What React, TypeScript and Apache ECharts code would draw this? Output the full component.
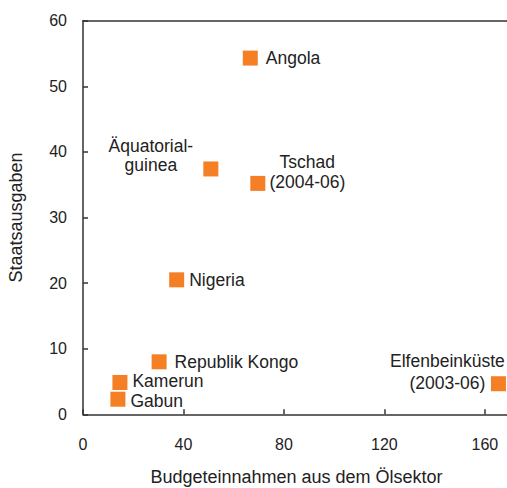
import React, { useEffect, useRef } from "react";
import * as echarts from "echarts";

const countries = [
  "Angola",
  "Äquatorial-\nguinea",
  "Tschad\n(2004-06)",
  "Nigeria",
  "Republik Kongo",
  "Kamerun",
  "Gabun",
  "Elfenbeinküste\n(2003-06)",
];
const oilRevenue = [66.6, 50.9, 69.6, 37.3, 30.3, 14.7, 13.9, 165.4];
const spending = [54.3, 37.4, 35.2, 20.5, 8.0, 4.85, 2.3, 4.66];

const xTicks = [0, 40, 80, 120, 160];
const yTicks = [0, 10, 20, 30, 40, 50, 60];

const FONT = "Liberation Sans";
const TEXT = "#222222";
const ORANGE = "#F47F24";

// label placement per point (style only)
const labelStyles: any[] = [
  { position: "right", distance: 8, lineHeight: 15 },
  { position: [-52.5, -6], align: "center", verticalAlign: "middle", lineHeight: 19.5 },
  { position: [57, -4], align: "center", verticalAlign: "middle", lineHeight: 20.5 },
  { position: "right", distance: 5, lineHeight: 15 },
  { position: "right", distance: 8, lineHeight: 15 },
  { position: "right", distance: 5, lineHeight: 15, offset: [0, -1.5] },
  { position: "right", distance: 5, lineHeight: 15, offset: [0, 1.5] },
  { position: [-43.5, -4], align: "center", verticalAlign: "middle", lineHeight: 22 },
];

export default function App() {
  const ref = useRef<HTMLDivElement>(null);
  useEffect(() => {
    if (!ref.current) return;
    const chart = echarts.init(ref.current, null, { renderer: "svg" });
    const axisLine = { show: true, lineStyle: { color: "#333", width: 1.5 } };
    chart.setOption({
      animation: false,
      grid: { left: 83, top: 20.7, right: -3, bottom: 73.7, outerBoundsMode: "none", containLabel: false },
      xAxis: [
        {
          type: "value",
          min: 0,
          max: 170,
          interval: 40,
          name: "Budgeteinnahmen aus dem Ölsektor",
          nameLocation: "middle",
          nameGap: 54,
          nameTextStyle: { fontFamily: FONT, fontSize: 18, color: TEXT },
          axisLine,
          axisTick: { show: true, inside: true, length: 5, lineStyle: { color: "#333", width: 1.5 } },
          axisLabel: {
            margin: 22,
            fontFamily: FONT,
            fontSize: 16,
            color: TEXT,
            showMaxLabel: false,
            formatter: (v: number) => (xTicks.includes(v) ? String(v) : ""),
          },
          splitLine: { show: false },
        },
        {
          type: "value",
          position: "top",
          min: 0,
          max: 170,
          axisLine,
          axisTick: { show: false },
          axisLabel: { show: false },
          splitLine: { show: false },
        },
      ],
      yAxis: {
        type: "value",
        min: 0,
        max: 60,
        interval: 10,
        name: "Staatsausgaben",
        nameLocation: "middle",
        nameGap: 58,
        nameTextStyle: { fontFamily: FONT, fontSize: 18, color: TEXT },
        axisLine,
        axisTick: { show: true, inside: true, length: 5, lineStyle: { color: "#333", width: 1.5 } },
        axisLabel: {
          margin: 16,
          fontFamily: FONT,
          fontSize: 16,
          color: TEXT,
          formatter: (v: number) => (yTicks.includes(v) ? String(v) : ""),
        },
        splitLine: { show: false },
      },
      series: [
        {
          type: "scatter",
          symbol: "rect",
          symbolSize: 15,
          itemStyle: { color: ORANGE, opacity: 1 },
          data: countries.map((c, i) => ({
            name: c,
            value: [oilRevenue[i], spending[i]],
            label: {
              show: true,
              formatter: c,
              fontFamily: FONT,
              fontSize: 17.5,
              color: TEXT,
              ...labelStyles[i],
            },
          })),
        },
      ],
    });
    return () => chart.dispose();
  }, []);
  return (
    <div
      ref={ref}
      style={{ position: "absolute", left: 0, top: 0, width: 507, height: 488 }}
    />
  );
}
